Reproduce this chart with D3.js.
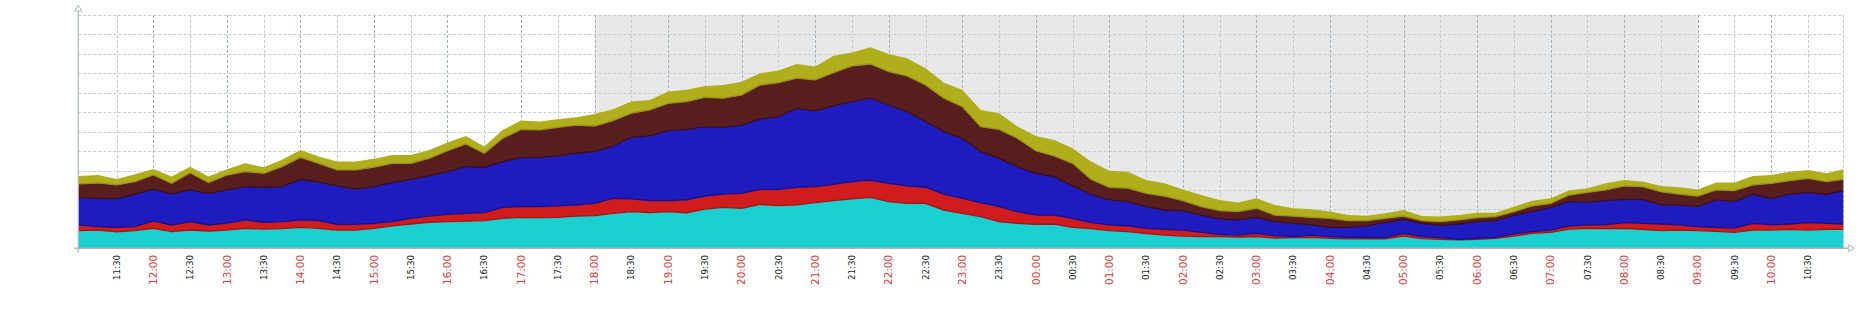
<!DOCTYPE html>
<html><head><meta charset="utf-8">
<script src="https://cdn.jsdelivr.net/npm/d3@7"></script>
<style>body{margin:0;background:#fff}svg{display:block}</style>
</head><body><svg id="chart" width="1862" height="330"></svg>
<script>
// ---- data: 15-minute samples from 11:00 to 11:00 next day ----
const startHour = 11;
const stepMinutes = 15;
const cyanValues  = [.91,.94,.84,.91,1.03,.86,.94,.89,.94,1.03,.99,1.01,1.08,1.03,.94,.94,1.03,1.15,1.25,1.34,1.37,1.40,1.42,1.54,1.59,1.58,1.59,1.66,1.68,1.80,1.89,1.83,1.89,1.83,2.02,2.11,2.06,2.26,2.19,2.23,2.35,2.45,2.54,2.62,2.40,2.31,2.31,1.97,1.80,1.63,1.37,1.28,1.23,1.25,1.08,1.01,.91,.86,.75,.68,.63,.60,.60,.58,.60,.53,.55,.56,.51,.48,.50,.48,.63,.50,.46,.43,.46,.51,.63,.77,.82,.99,1.03,1.01,1.03,.98,.91,.94,.91,.87,.82,.94,.94,.98,.94,.98,.98];
const redValues   = [.29,.17,.24,.20,.38,.34,.43,.31,.35,.43,.35,.36,.38,.39,.29,.29,.25,.22,.29,.32,.38,.40,.41,.57,.55,.56,.59,.57,.63,.77,.65,.62,.56,.66,.67,.68,.77,.77,.84,.91,.82,.84,.89,.89,.94,.90,.83,.82,.77,.72,.77,.61,.48,.46,.46,.31,.29,.30,.28,.30,.31,.22,.12,.10,.17,.12,.05,.12,.09,.08,.06,.07,.14,.10,.09,.03,.05,.05,.11,.09,.12,.16,.17,.19,.29,.30,.34,.26,.20,.21,.22,.34,.26,.27,.38,.30,.27];
const blueValues  = [1.41,1.46,1.46,1.67,1.63,1.60,1.63,1.63,1.71,1.71,1.80,1.80,2.09,1.98,1.98,1.81,1.89,2.01,2.01,2.06,2.19,2.40,2.34,2.35,2.52,2.54,2.57,2.66,2.66,2.69,3.17,3.33,3.60,3.63,3.57,3.43,3.51,3.61,3.74,4.06,3.90,4.03,4.12,4.21,4.03,3.82,3.38,3.21,3.09,2.62,2.49,2.31,2.15,1.98,1.67,1.46,1.29,1.24,1.11,.99,1.00,.89,.79,.78,.82,.72,.68,.52,.48,.52,.59,.77,.72,.68,.63,.79,.86,.86,.97,1.03,1.17,1.25,1.18,1.25,1.20,1.24,.98,1.03,1.03,1.41,1.36,1.50,1.37,1.54,1.54,1.50,1.72];
const brownValues = [.70,.79,.72,.65,.73,.54,.89,.55,.77,.78,.72,1.03,1.13,.97,.82,.99,1.00,.99,.82,.91,1.08,1.17,.72,1.20,1.46,1.41,1.47,1.45,1.32,1.31,1.24,1.34,1.41,1.43,1.51,1.50,1.55,1.76,1.75,1.55,1.59,1.72,1.83,1.76,1.72,1.84,1.88,1.72,1.63,1.29,1.49,1.46,1.16,1.06,1.16,.77,.65,.69,.69,.72,.51,.43,.43,.43,.47,.34,.38,.39,.46,.34,.27,.22,.17,.14,.19,.21,.21,.21,.18,.29,.20,.34,.50,.55,.69,.65,.68,.56,.55,.51,.57,.48,.77,.69,.74,.65,.58];
const oliveValues = [.41,.41,.31,.38,.31,.35,.31,.31,.30,.42,.31,.35,.38,.35,.43,.43,.43,.43,.43,.43,.42,.41,.34,.43,.45,.43,.42,.40,.62,.58,.60,.51,.60,.60,.58,.68,.68,.60,.62,.73,.69,.86,.69,.86,.91,.91,.86,.80,.86,.86,.83,.60,.76,.82,.77,.91,.85,.85,.68,.65,.58,.60,.55,.46,.51,.52,.40,.42,.35,.29,.26,.26,.31,.24,.26,.25,.25,.20,.25,.27,.26,.23,.21,.34,.30,.26,.30,.35,.34,.38,.41,.46,.43,.46,.43,.43,.51];

const seriesKeys   = ["cyan","red","blue","brown","olive"];
const seriesColors = ["#1bd0d0","#d01c1c","#1e1cbe","#581e1e","#b0ae1a"];
const edgeColors   = ["#1bd0d0","#a81212","#12108a","#3a0c1c","#969412"];
const gridMax = 12;                 // horizontal grid lines
const nightFromHour = 18, nightToHour = 9;

// ---- layout ----
const plotLeft = 78.3, plotRight = 1843.3, plotTop = 15, plotBottom = 248.3;

const baseTime = new Date(2024, 0, 1, startHour, 0, 0);
const domainStart = new Date(+baseTime - 73 * 1000);
const domainEnd = new Date(+domainStart + 24 * 3600 * 1000);

const x = d3.scaleTime().domain([domainStart, domainEnd]).range([plotLeft, plotRight]).clamp(true);
const y = d3.scaleLinear().domain([0, gridMax]).range([plotBottom, plotTop]);

const rows = cyanValues.map((_, i) => ({
  time: i === 0 ? domainStart : new Date(+baseTime + i * stepMinutes * 60000),
  cyan: cyanValues[i], red: redValues[i], blue: blueValues[i],
  brown: brownValues[i], olive: oliveValues[i]
}));

const svg = d3.select("#chart");

// night shading
const nightStart = new Date(2024, 0, 1, nightFromHour, 0);
const nightEnd = new Date(2024, 0, 2, nightToHour, 0);
svg.append("rect")
  .attr("x", x(nightStart)).attr("y", plotTop)
  .attr("width", x(nightEnd) - x(nightStart)).attr("height", plotBottom - plotTop)
  .attr("fill", "#e8e8e8");

// grid
const gridG = svg.append("g").attr("fill", "none").attr("stroke-dasharray", "3,2").attr("stroke-width", 1);
d3.range(0, gridMax + 1).forEach(v => {
  gridG.append("line").attr("x1", plotLeft).attr("x2", plotRight)
    .attr("y1", Math.round(y(v)) + 0.5).attr("y2", Math.round(y(v)) + 0.5)
    .attr("stroke", "#c3ccd3");
});
const ticks = d3.timeMinute.every(30).range(domainStart, domainEnd)
  .filter(t => x(t) - plotLeft > 10);
ticks.forEach(t => {
  const xx = Math.round(x(t)) + 0.5;
  gridG.append("line").attr("x1", xx).attr("x2", xx).attr("y1", plotTop).attr("y2", plotBottom)
    .attr("stroke", t.getMinutes() === 0 ? "#a4b2bb" : "#c3ccd3");
});
gridG.append("line").attr("x1", Math.round(plotRight) + 0.5).attr("x2", Math.round(plotRight) + 0.5)
  .attr("y1", plotTop).attr("y2", plotBottom).attr("stroke", "#c3ccd3");

// stacked areas
const stack = d3.stack().keys(seriesKeys);
const layers = stack(rows);
const area = d3.area().x(d => x(d.data.time)).y0(d => y(d[0])).y1(d => y(d[1])).curve(d3.curveLinear);
const edge = d3.line().x(d => x(d.data.time)).y(d => y(d[0])).curve(d3.curveLinear);
svg.append("g").selectAll("path").data(layers).join("path")
  .attr("d", area).attr("fill", (d, i) => seriesColors[i]);
svg.append("g").selectAll("path").data(layers.slice(1)).join("path")
  .attr("d", edge).attr("fill", "none").attr("stroke-width", 1.3)
  .attr("stroke", (d, i) => edgeColors[i + 1]);

// axes
const axisColor = "#aab6be";
svg.append("line").attr("x1", plotLeft).attr("x2", plotLeft).attr("y1", 10).attr("y2", plotBottom + 4)
  .attr("stroke", axisColor).attr("stroke-width", 1.2);
svg.append("line").attr("x1", plotLeft - 4).attr("x2", plotRight + 5).attr("y1", plotBottom).attr("y2", plotBottom)
  .attr("stroke", axisColor).attr("stroke-width", 1.4);
svg.append("path").attr("d", `M${plotLeft},5 L${plotLeft - 3.5},11 L${plotLeft + 3.5},11 Z`)
  .attr("fill", "#fff").attr("stroke", axisColor).attr("stroke-width", 1);
svg.append("path").attr("d", `M${plotRight + 11},${plotBottom} L${plotRight + 5},${plotBottom - 3.5} L${plotRight + 5},${plotBottom + 3.5} Z`)
  .attr("fill", "#fff").attr("stroke", axisColor).attr("stroke-width", 1);

// tick labels
const fmt = d3.timeFormat("%H:%M");
svg.append("g").selectAll("text").data(ticks).join("text")
  .attr("transform", d => `translate(${x(d)},255) rotate(-90)`)
  .attr("text-anchor", "end").attr("dy", "0.36em")
  .attr("font-family", "DejaVu Sans, sans-serif")
  .attr("font-size", d => d.getMinutes() === 0 ? "10.4px" : "8.7px")
  .attr("fill", d => d.getMinutes() === 0 ? "#e23a3a" : "#222")
  .text(d => fmt(d));
</script></body></html>
